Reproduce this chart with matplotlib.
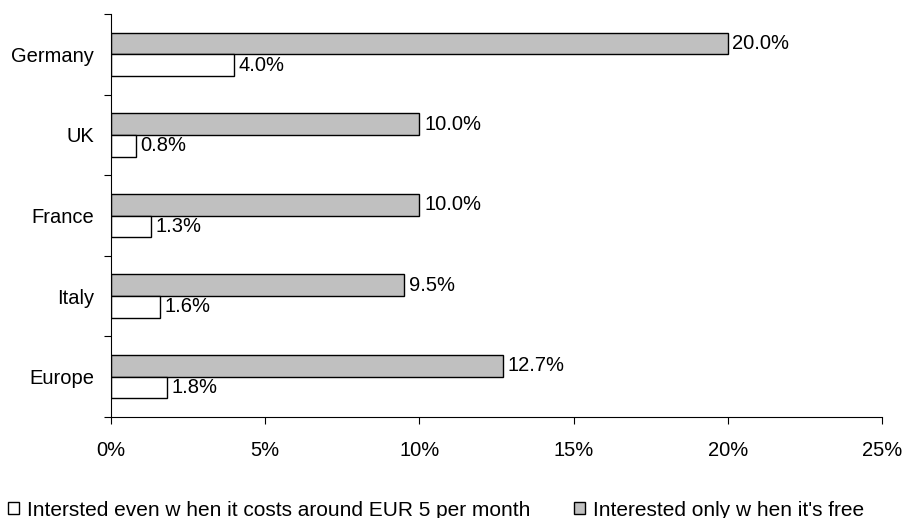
import matplotlib.pyplot as plt
from matplotlib.patches import Patch
import numpy as np

plt.rcParams['font.family'] = ['Liberation Sans', 'DejaVu Sans']

laender = ['Germany', 'UK', 'France', 'Italy', 'Europe']
nur_gratis = [20.0, 10.0, 10.0, 9.5, 12.7]
auch_5eur = [4.0, 0.8, 1.3, 1.6, 1.8]
x_ticks = [0, 5, 10, 15, 20, 25]

label_5eur = "Intersted even w hen it costs around EUR 5 per month"
label_gratis = "Interested only w hen it's free"

grau = '#c0c0c0'
fs = 14.5

fig = plt.figure(figsize=(9.05, 5.18), dpi=100)
ax = fig.add_axes([111 / 905, 101 / 518, 771 / 905, 403 / 518])

pos = np.arange(len(laender)) + 0.5
h = 0.27
ax.barh(pos - h / 2, nur_gratis, height=h, color=grau, edgecolor='black', linewidth=1.0)
ax.barh(pos + h / 2, auch_5eur, height=h, color='white', edgecolor='black', linewidth=1.0)

for y, v in zip(pos - h / 2, nur_gratis):
    ax.text(v + 0.15, y, f"{v:.1f}%", va='center', ha='left', fontsize=fs)
for y, v in zip(pos + h / 2, auch_5eur):
    ax.text(v + 0.15, y, f"{v:.1f}%", va='center', ha='left', fontsize=fs)

ax.set_xlim(0, 25)
ax.set_ylim(len(laender), 0)
ax.set_xticks(x_ticks)
ax.set_xticklabels([f"{t}%" for t in x_ticks], fontsize=fs)
ax.tick_params(axis='x', direction='out', length=5, width=0.8, pad=12)

ax.set_yticks(np.arange(len(laender) + 1))
ax.set_yticklabels([])
ax.tick_params(axis='y', which='major', direction='out', length=5, width=0.8)
ax.set_yticks(pos, minor=True)
ax.set_yticklabels(laender, minor=True, fontsize=fs)
ax.tick_params(axis='y', which='minor', length=0, pad=12)

for s in ['top', 'right']:
    ax.spines[s].set_visible(False)
for s in ['left', 'bottom']:
    ax.spines[s].set_linewidth(0.8)

handles = [Patch(facecolor='white', edgecolor='black', linewidth=1.0, label=label_5eur),
           Patch(facecolor=grau, edgecolor='black', linewidth=1.0, label=label_gratis)]
fig.legend(handles=handles, loc='center left', bbox_to_anchor=(8 / 905, 8 / 518), ncol=2,
           frameon=False, fontsize=15, handlelength=0.53, handleheight=0.53,
           handletextpad=0.38, columnspacing=2.1, borderaxespad=0, borderpad=0)

fig.savefig('out.png', dpi=100)
